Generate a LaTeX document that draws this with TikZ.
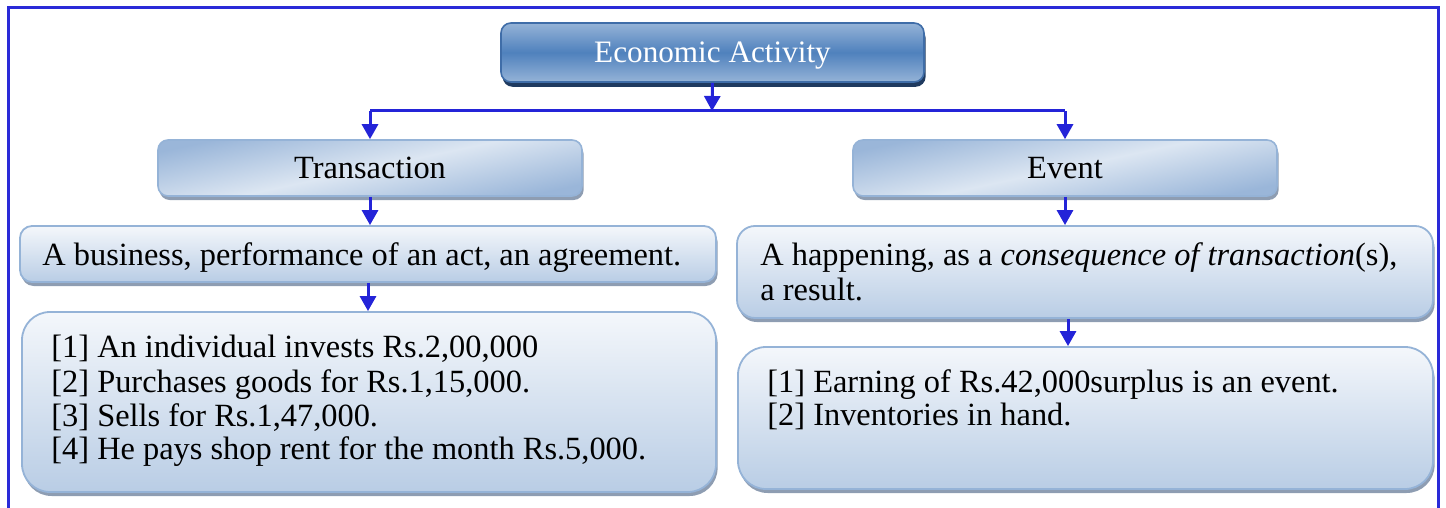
\documentclass[tikz,border=0pt]{standalone}
\usepackage{fontspec}
\setmainfont{Liberation Serif}
\usetikzlibrary{arrows.meta,shadows,calc}
\definecolor{arrowblue}{HTML}{2424D8}
\definecolor{framecol}{HTML}{2A2AD8}
\definecolor{boxline}{HTML}{95B3D7}
\definecolor{boxtop}{HTML}{F4F7FB}
\definecolor{boxbot}{HTML}{B9CDE5}
\definecolor{midlight}{HTML}{DCE6F2}
\definecolor{middark}{HTML}{9AB6D9}
\definecolor{darkfill}{HTML}{4F81BD}
\definecolor{darkedge}{HTML}{95B3D7}
\definecolor{darkline}{HTML}{3F6DA8}
\definecolor{darkshadow}{HTML}{1F3A5F}
\definecolor{lightshadow}{HTML}{8E9DB2}
\begin{document}
\begin{tikzpicture}[x=0.5pt,y=-0.5pt,
  txt/.style={font=\fontsize{16.2}{19}\selectfont, inner sep=0pt, anchor=base west},
  titlebox/.style={draw=darkline, line width=0.8pt, rounded corners=5pt,
    top color=darkedge, bottom color=darkedge, middle color=darkfill,
    drop shadow={shadow xshift=0.8pt, shadow yshift=-2.4pt, fill=darkshadow, opacity=1},
    text=white, font=\fontsize{15.6}{19}\selectfont, text depth=0pt},
  headbox/.style={draw=boxline, line width=0.8pt, rounded corners=5pt,
    top color=middark, bottom color=middark, middle color=midlight, shading angle=12,
    drop shadow={shadow xshift=0.8pt, shadow yshift=-2pt, fill=lightshadow, opacity=1},
    font=\fontsize{16.2}{19}\selectfont, text depth=0pt},
  textbox/.style={draw=boxline, line width=0.9pt, top color=boxtop, bottom color=boxbot,
    drop shadow={shadow xshift=0.8pt, shadow yshift=-2pt, fill=lightshadow, opacity=1}},
  conn/.style={draw=arrowblue, line width=1.5pt, -{Triangle[width=8pt,length=7.5pt]}},
  link/.style={draw=arrowblue, line width=1.5pt}
]
\useasboundingbox (0,0) rectangle (1446,508);
% frame
\draw[framecol, line width=1.5pt] (8,510) -- (8,8) -- (1438,8) -- (1438,510);

% boxes
\node[titlebox, minimum width=211.5pt, minimum height=29.5pt] (ea) at (712.5,52.5) {Economic Activity};
\node[headbox, minimum width=212pt, minimum height=28pt] (tr) at (370,168) {Transaction};
\node[headbox, minimum width=212pt, minimum height=28pt] (ev) at (1065,168) {Event};
\node[textbox, rounded corners=6pt, minimum width=348pt, minimum height=28pt] (b1) at (368,254) {};
\node[textbox, rounded corners=14pt, minimum width=347pt, minimum height=90pt] (b2) at (369,402) {};
\node[textbox, rounded corners=9pt, minimum width=348pt, minimum height=46pt] (h1) at (1085,272) {};
\node[textbox, rounded corners=14pt, minimum width=347.5pt, minimum height=71pt] (h2) at (1085.5,418) {};

% texts
\node[txt] (t1) at (42,265) {A business, performance of an act, an agreement.};
\node[txt] (l1) at (51,357) {[1] An individual invests Rs.2,00,000};
\node[txt] (l2) at (51,392) {[2] Purchases goods for Rs.1,15,000.};
\node[txt] (l3) at (51,426) {[3] Sells for Rs.1,47,000.};
\node[txt] (l4) at (51,459) {[4] He pays shop rent for the month Rs.5,000.};
\node[txt] (r1) at (760,265) {A happening, as a \textit{consequence of transaction}(s),};
\node[txt] (r2) at (760,300) {a result.};
\node[txt] (m1) at (767,392) {[1] Earning of Rs.42,000surplus is an event.};
\node[txt] (m2) at (767,425) {[2] Inventories in hand.};

% connectors
\coordinate (j) at (712,111);
\coordinate (jl) at (tr.north |- j);
\coordinate (jr) at (ev.north |- j);
\coordinate (hx) at (1068,0);
\draw[conn] (ea.south) -- (j);
\draw[link] (jl) -- (jr);
\draw[conn] (jl) -- (tr.north);
\draw[conn] (jr) -- (ev.north);
\draw[conn] (tr.south) -- (tr.south |- b1.north);
\draw[conn] (b1.south) -- (b1.south |- b2.north);
\draw[conn] (ev.south) -- (ev.south |- h1.north);
\draw[conn] (hx |- h1.south) -- (hx |- h2.north);
\end{tikzpicture}
\end{document}
